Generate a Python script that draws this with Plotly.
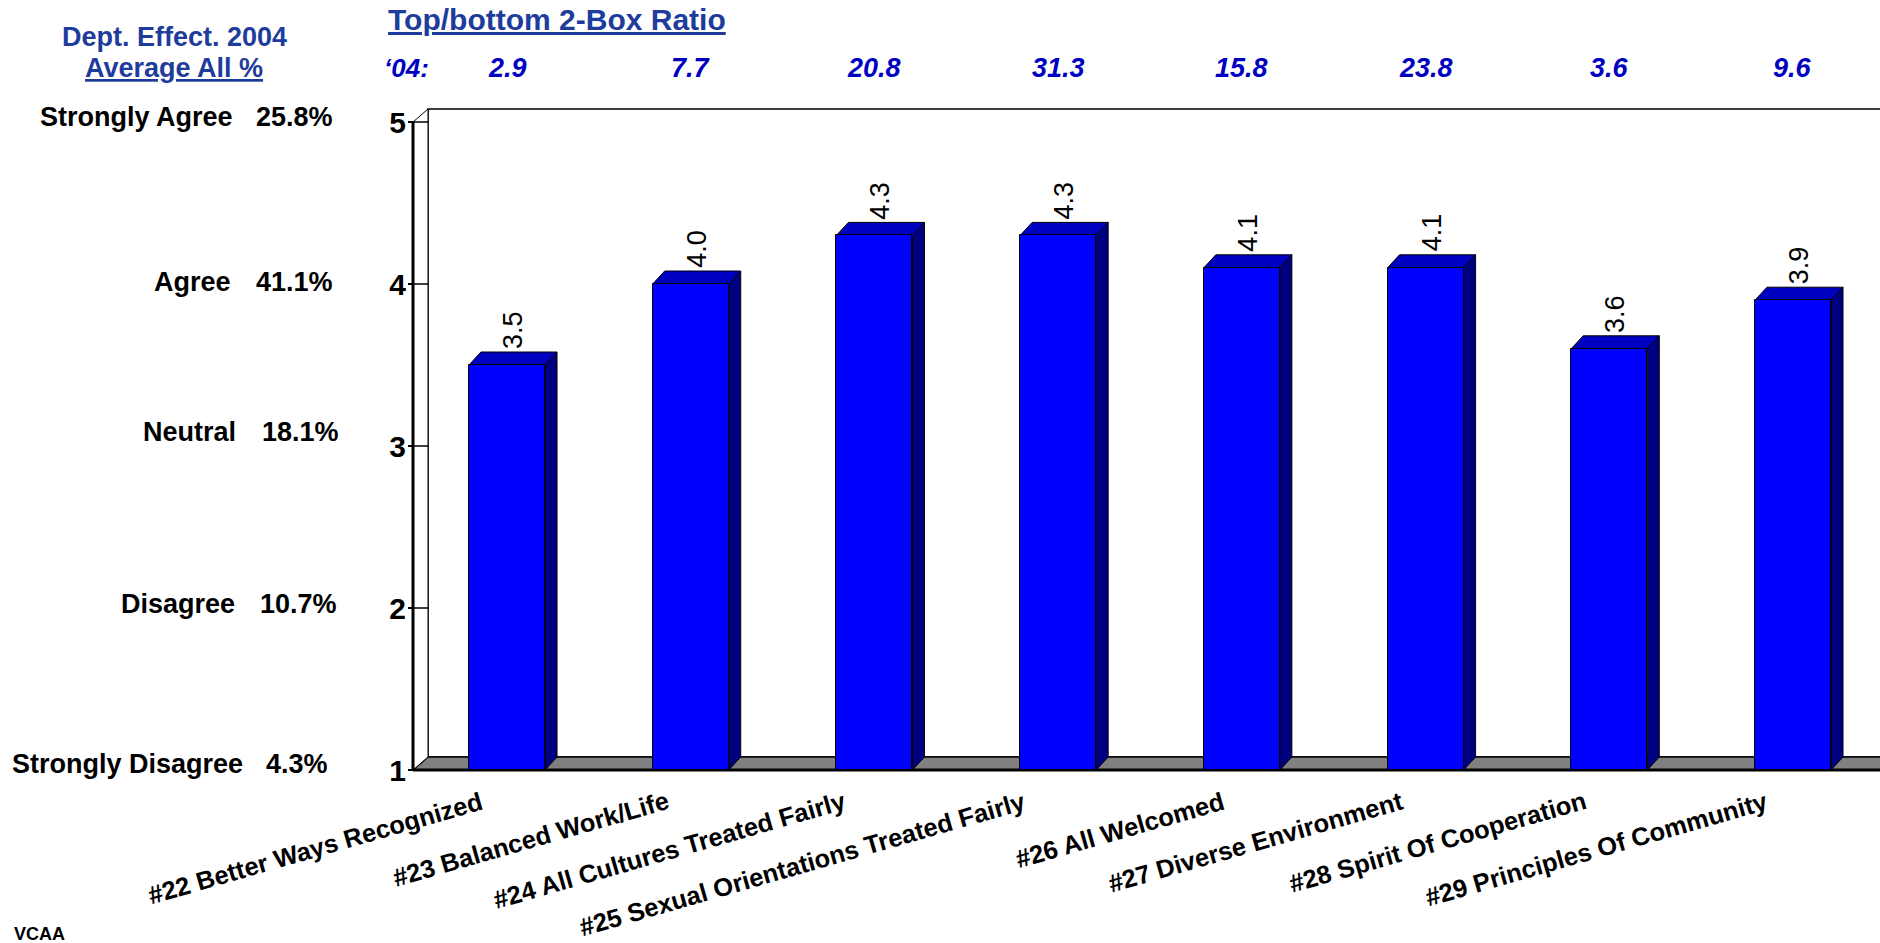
import plotly.graph_objects as go

# ---- data ----
categories = [
    "#22 Better Ways Recognized",
    "#23 Balanced Work/Life",
    "#24 All Cultures Treated Fairly",
    "#25 Sexual Orientations Treated Fairly",
    "#26 All Welcomed",
    "#27 Diverse Environment",
    "#28 Spirit Of Cooperation",
    "#29 Principles Of Community",
]
scores = [3.5, 4.0, 4.3, 4.3, 4.1, 4.1, 3.6, 3.9]
ratios_2004 = ["2.9", "7.7", "20.8", "31.3", "15.8", "23.8", "3.6", "9.6"]
scale_levels = [5, 4, 3, 2, 1]
scale_labels = ["Strongly Agree", "Agree", "Neutral", "Disagree", "Strongly Disagree"]
scale_shares = ["25.8%", "41.1%", "18.1%", "10.7%", "4.3%"]

# ---- page geometry ----
W, H = 1880, 943
ML, MR, MT, MB = 400, 0, 100, 163
PW, PH = W - ML - MR, H - MT - MB
KX = 183.71                      # px per category
X0 = -(507 - ML) / KX            # left end of x range
X_RANGE = [X0, X0 + PW / KX]
Y_RANGE = [1 - 10 / 162.0, 1 + 670 / 162.0]
KY = PH / (Y_RANGE[1] - Y_RANGE[0])

def ux(px):
    return px / KX

def uy(px):
    return px / KY

def paper_x(px):
    return (px - ML) / PW

def paper_y(py):
    return (H - MB - py) / PH

FONT = "Arial, Liberation Sans, sans-serif"
HEAD_BLUE = "#1E3C9C"
VAL_BLUE = "#0000C0"

XL = X0 + ux(13)                 # front edge of the left wall
XR = X_RANGE[1] + 1.0
DXW, DYW = ux(15), uy(13)        # wall depth
DXB, DYB = ux(12), uy(13)        # bar depth
BAR_W = 0.414

fig = go.Figure()

fig.add_trace(go.Bar(
    x=list(range(len(categories))),
    y=[s - 1 for s in scores],
    base=1,
    width=BAR_W,
    marker=dict(color="#0000FF", line=dict(color="#000000", width=1)),
    hoverinfo="skip",
    showlegend=False,
))

shapes = []

def poly(pts, fill, lw=1, color="#000000"):
    d = "M " + " L ".join(f"{x},{y}" for x, y in pts) + " Z"
    return dict(type="path", path=d, xref="x", yref="y", fillcolor=fill,
                line=dict(color=color, width=lw), layer="below")

def seg(x0, y0, x1, y1, lw=1):
    return dict(type="line", x0=x0, y0=y0, x1=x1, y1=y1, xref="x", yref="y",
                line=dict(color="#000000", width=lw), layer="below")

# back wall
shapes.append(poly([(XL + DXW, 1 + DYW), (XL + DXW, 5 + DYW), (XR, 5 + DYW), (XR, 1 + DYW)], "#FFFFFF", 1.5))
# floor
shapes.append(poly([(XL, 1), (XR, 1), (XR, 1 + DYW), (XL + DXW, 1 + DYW)], "#808080", 1.5))
# left wall
shapes.append(poly([(XL, 1), (XL, 5), (XL + DXW, 5 + DYW), (XL + DXW, 1 + DYW)], "#FFFFFF", 1))
# wall ticks
for lv in scale_levels:
    shapes.append(seg(XL, lv, XL + DXW, lv, 1.5))
# front axis edges
shapes.append(seg(XL, 1, XL, 5, 3))
shapes.append(seg(XL, 1, XR, 1, 3))

# bar side and top faces
for i, s in enumerate(scores):
    xa, xb = i - BAR_W / 2, i + BAR_W / 2
    shapes.append(poly([(xb, 1), (xb, s), (xb + DXB, s + DYB), (xb + DXB, 1 + DYB)], "#000080", 1))
    shapes.append(poly([(xa, s), (xa + DXB, s + DYB), (xb + DXB, s + DYB), (xb, s)], "#0000C0", 1))

annotations = []

def note(text, x, y, size, color="#000000", xanchor="center", yanchor="middle",
         xref="paper", yref="paper", **kw):
    annotations.append(dict(text=text, x=x, y=y, xref=xref, yref=yref, showarrow=False,
                            xanchor=xanchor, yanchor=yanchor,
                            font=dict(family=FONT, size=size, color=color), **kw))

# value labels above bars
for i, s in enumerate(scores):
    note(f"{s:.1f}", i, s, 27, xref="x", yref="y", yanchor="bottom",
         textangle=-90, xshift=6, yshift=14)

# category labels
for i, c in enumerate(categories):
    note(f"<b>{c}</b>", i, 1, 25.5, xref="x", yref="y", xanchor="right", yanchor="top",
         textangle=-16, xshift=-2 - 0.65 * len(c), yshift=-14)

# ratio row
note("<b>Top/bottom 2-Box Ratio</b>", paper_x(386), paper_y(20), 30, HEAD_BLUE, xanchor="left")
annotations[-1]["font"]["lineposition"] = "under"
note("<b><i>\u201804:</i></b>", paper_x(406), paper_y(68), 26, VAL_BLUE)
for i, r in enumerate(ratios_2004):
    note(f"<b><i>{r}</i></b>", i, paper_y(68), 27, VAL_BLUE, xref="x")

# left header
note("<b>Dept. Effect. 2004</b>", paper_x(174), paper_y(37), 27, HEAD_BLUE)
note("<b>Average All %</b>", paper_x(174), paper_y(68), 27, HEAD_BLUE)
annotations[-1]["font"]["lineposition"] = "under"

# scale rows
row_y = [117, 282, 432, 604, 764]
label_end = [235, 233, 238, 237, 245]
share_end = [335, 335, 341, 339, 330]
for lab, share, ry, le, se in zip(scale_labels, scale_shares, row_y, label_end, share_end):
    note(f"<b>{lab}</b>", paper_x(le), paper_y(ry), 27, xanchor="right")
    note(f"<b>{share}</b>", paper_x(se), paper_y(ry), 27, xanchor="right")

note("<b>VCAA</b>", paper_x(12), paper_y(934), 18, xanchor="left")

fig.update_layout(
    width=W, height=H,
    margin=dict(l=ML, r=MR, t=MT, b=MB, pad=0),
    paper_bgcolor="#FFFFFF", plot_bgcolor="#FFFFFF",
    showlegend=False,
    bargap=0,
    xaxis=dict(range=X_RANGE, showticklabels=False, showgrid=False, zeroline=False,
               showline=False, ticks="", fixedrange=True),
    yaxis=dict(range=Y_RANGE, tickvals=scale_levels, ticktext=[str(v) for v in scale_levels],
               tickfont=dict(family=FONT, size=30, color="#000000", weight="bold"),
               showgrid=False, zeroline=False, showline=False,
               ticks="outside", ticklen=5, tickwidth=2, tickcolor="#000000",
               ticklabelstandoff=-4,
               anchor="free", position=paper_x(413), fixedrange=True),
    shapes=shapes,
    annotations=annotations,
)

fig.write_html("out.html", config={"displayModeBar": False})
